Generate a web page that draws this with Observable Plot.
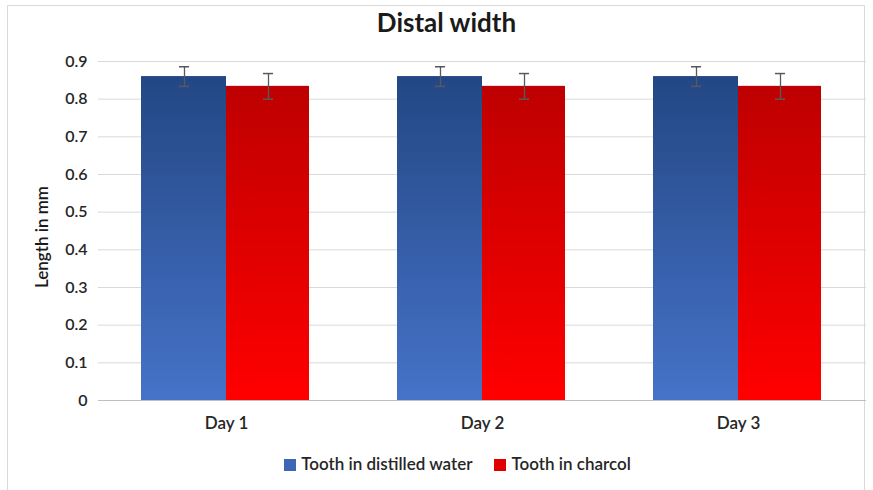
<!DOCTYPE html>
<html>
<head>
<meta charset="utf-8">
<script src="https://cdn.jsdelivr.net/npm/d3@7"></script>
<script src="https://cdn.jsdelivr.net/npm/@observablehq/plot@0.6"></script>
<style>
  html, body { margin: 0; padding: 0; background: #fff; }
  body { width: 873px; height: 490px; overflow: hidden; position: relative; font-family: Lato, "Open Sans", sans-serif; }
  #frame { position: absolute; left: 7px; top: 5px; width: 858px; height: 490px; border: 1px solid #d9d9d9; box-sizing: border-box; }
  #title { position: absolute; left: 0; width: 873px; top: 6px; text-align: center; font-size: 26px; font-weight: bold; color: #1a1a1a; padding-left: 20px; box-sizing: border-box; }
  #chart { position: absolute; left: 0; top: 40px; }
  #legend { position: absolute; top: 453px; left: 0; width: 873px; display: flex; justify-content: center; gap: 22px; font-size: 17px; color: #262626; font-weight: 600; padding-left: 42px; box-sizing: border-box; }
  #legend span.sw { display: inline-block; width: 12px; height: 12px; margin-right: 5px; vertical-align: -1px; }
</style>
</head>
<body>
<div id="frame"></div>
<div id="title">Distal width</div>
<div id="chart"></div>
<div id="legend"></div>
<script>
const days = ["Day 1", "Day 2", "Day 3"];
const seriesNames = ["Tooth in distilled water", "Tooth in charcol"];
const waterValues = [0.86, 0.86, 0.86];
const waterErrors = [0.026, 0.026, 0.026];
const charcolValues = [0.834, 0.834, 0.834];
const charcolErrors = [0.034, 0.034, 0.034];
const yTicks = [0, 0.1, 0.2, 0.3, 0.4, 0.5, 0.6, 0.7, 0.8, 0.9];

const rows = [];
days.forEach((d, i) => {
  rows.push({day: d, series: seriesNames[0], value: waterValues[i], err: waterErrors[i]});
  rows.push({day: d, series: seriesNames[1], value: charcolValues[i], err: charcolErrors[i]});
});
const water = rows.filter(r => r.series === seriesNames[0]);
const charcol = rows.filter(r => r.series === seriesNames[1]);

const plot = Plot.plot({
  width: 873,
  height: 410,
  marginLeft: 97,
  marginRight: 7,
  marginTop: 21,
  marginBottom: 50,
  style: {fontFamily: "Lato, 'Open Sans', sans-serif", fontSize: "16px", color: "#404040", background: "transparent"},
  fx: {domain: days, paddingInner: 0, paddingOuter: 0, label: null, axis: "bottom", tickSize: 0, tickPadding: 16},
  x: {domain: seriesNames, paddingInner: 0, paddingOuter: 0.51, axis: null},
  y: {domain: [0, 0.9], ticks: yTicks, tickFormat: d => d === 0 ? "0" : d3.format(".1f")(d), label: null, tickSize: 0, tickPadding: 11},
  marks: [
    Plot.gridY(yTicks.filter(t => t > 0), {stroke: "#d9d9d9", strokeOpacity: 1, strokeWidth: 1}),
    Plot.barY(water, {fx: "day", x: "series", y: "value", fill: "url(#gradBlue)", insetLeft: -1}),
    Plot.barY(charcol, {fx: "day", x: "series", y: "value", fill: "url(#gradRed)", insetRight: 1}),
    Plot.ruleY([0], {stroke: "#bfbfbf", strokeWidth: 1}),
    Plot.ruleX(rows, {fx: "day", x: "series", y1: d => d.value - d.err, y2: d => d.value + d.err, stroke: "#595959", strokeWidth: 1.3}),
    Plot.tickY(rows, {fx: "day", x: "series", y: d => d.value + d.err, stroke: "#595959", strokeWidth: 1.5, insetLeft: 37, insetRight: 37}),
    Plot.tickY(rows, {fx: "day", x: "series", y: d => d.value - d.err, stroke: "#595959", strokeWidth: 1.5, insetLeft: 37, insetRight: 37})
  ]
});

const ns = "http://www.w3.org/2000/svg";
const defs = document.createElementNS(ns, "defs");
defs.innerHTML = `
  <linearGradient id="gradBlue" x1="0" y1="0" x2="0" y2="1">
    <stop offset="0" stop-color="#234784"/>
    <stop offset="1" stop-color="#4673C8"/>
  </linearGradient>
  <linearGradient id="gradRed" x1="0" y1="0" x2="0" y2="1">
    <stop offset="0" stop-color="#BE0000"/>
    <stop offset="1" stop-color="#FF0000"/>
  </linearGradient>`;
plot.insertBefore(defs, plot.firstChild);

// y-axis title
const yl = document.createElementNS(ns, "text");
yl.setAttribute("transform", "translate(48,197) rotate(-90)");
yl.setAttribute("text-anchor", "middle");
yl.setAttribute("fill", "#1a1a1a");
yl.setAttribute("font-size", "17");
yl.setAttribute("font-weight", "600");
yl.textContent = "Length in mm";
plot.appendChild(yl);

plot.querySelectorAll("[aria-label='y-axis tick label'], [aria-label='fx-axis tick label']").forEach(g => {
  g.setAttribute("font-weight", "600");
  g.setAttribute("fill", "#262626");
});
plot.querySelectorAll("[aria-label='fx-axis tick label']").forEach(g => {
  g.setAttribute("font-size", "17");
});

document.getElementById("chart").appendChild(plot);

const legendColors = ["#3D67B5", "#E00000"];
const legend = document.getElementById("legend");
seriesNames.forEach((s, i) => {
  const item = document.createElement("div");
  item.innerHTML = `<span class="sw" style="background:${legendColors[i]}"></span>${s}`;
  legend.appendChild(item);
});
</script>
</body>
</html>
